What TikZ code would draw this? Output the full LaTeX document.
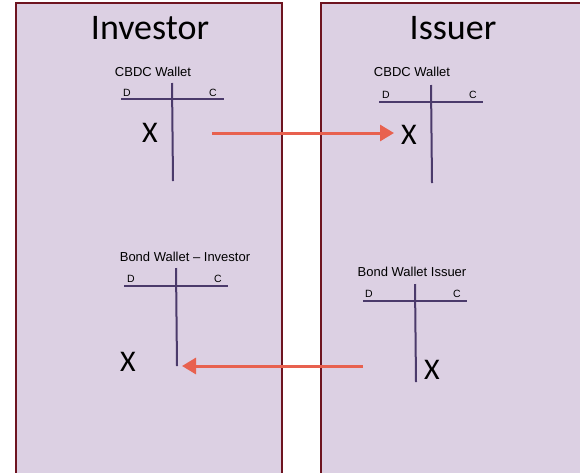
\documentclass[tikz,border=0pt]{standalone}
\usepackage{fontspec}
\setmainfont{Liberation Sans}
\newfontfamily\calfont{Carlito}
\usepackage{tikz}
\definecolor{panelfill}{HTML}{DCD0E3}
\definecolor{panelline}{HTML}{6E1420}
\definecolor{tline}{HTML}{4B3A6B}
\definecolor{flowred}{HTML}{E8614F}
\tikzset{
  panel/.style={fill=panelfill,draw=panelline,line width=2.4pt},
  tacc/.style={draw=tline,line width=2pt},
  flow/.style={draw=flowred,line width=3pt,-{Triangle[length=14pt,width=16pt]}},
  head/.style={font=\calfont\fontsize{36}{40}\selectfont,inner sep=0pt},
  wname/.style={font=\fontsize{13}{15}\selectfont,inner sep=0pt},
  side/.style={font=\fontsize{10.5}{12}\selectfont,inner sep=0pt},
  entry/.style={font=\calfont\fontsize{30}{32}\selectfont,inner sep=0pt}
}
\usetikzlibrary{arrows.meta}

\begin{document}
\begin{tikzpicture}[x=1pt,y=-1pt]
\useasboundingbox (0,0) rectangle (580,472);
\clip (0,0) rectangle (580,472);
\fill[white] (0,0) rectangle (580,472);
\draw[panel] (16,3) rectangle (282,490); % investor
\draw[panel] (321,3) rectangle (600,490); % issuer
\node[head] (invhead) at (150,28) {Investor};
\node[head] (isshead) at (453,28) {Issuer};
% CBDC wallet - investor
\node[wname] (invcbdc) at (153,72) {CBDC Wallet};
\draw[tacc] (121,99) -- (224,99);
\draw[tacc] (172,83) -- (173,181);
\node[side] (invcbdcD) at (127,93) {D};
\node[side] (invcbdcC) at (213,93) {C};
\node[entry] (invcbdcX) at (150,133) {X};
% CBDC wallet - issuer
\node[wname] (isscbdc) at (412,72) {CBDC Wallet};
\draw[tacc] (379,102) -- (483,102);
\draw[tacc] (431,85) -- (432,183);
\node[side] (isscbdcD) at (386,95) {D};
\node[side] (isscbdcC) at (473,95) {C};
\node[entry] (isscbdcX) at (409,135) {X};
% bond wallet - investor
\node[wname] (invbond) at (185,257) {Bond Wallet -- Investor};
\draw[tacc] (124,286) -- (228,286);
\draw[tacc] (176,268) -- (177,366);
\node[side] (invbondD) at (131,279) {D};
\node[side] (invbondC) at (218,279) {C};
\node[entry] (invbondX) at (128,362) {X};
% bond wallet - issuer
\node[wname] (issbond) at (412,272) {Bond Wallet Issuer};
\draw[tacc] (363,301) -- (467,301);
\draw[tacc] (415,284) -- (416,382);
\node[side] (issbondD) at (369,294) {D};
\node[side] (issbondC) at (457,294) {C};
\node[entry] (issbondX) at (432,370) {X};
% flows
\coordinate (cashout) at (212,133);
\coordinate (cashin) at (394,133);
\coordinate (bondout) at (363,366);
\coordinate (bondin) at (182,366);
\draw[flow] (cashout) -- (cashin);
\draw[flow] (bondout) -- (bondin);
\end{tikzpicture}
\end{document}
